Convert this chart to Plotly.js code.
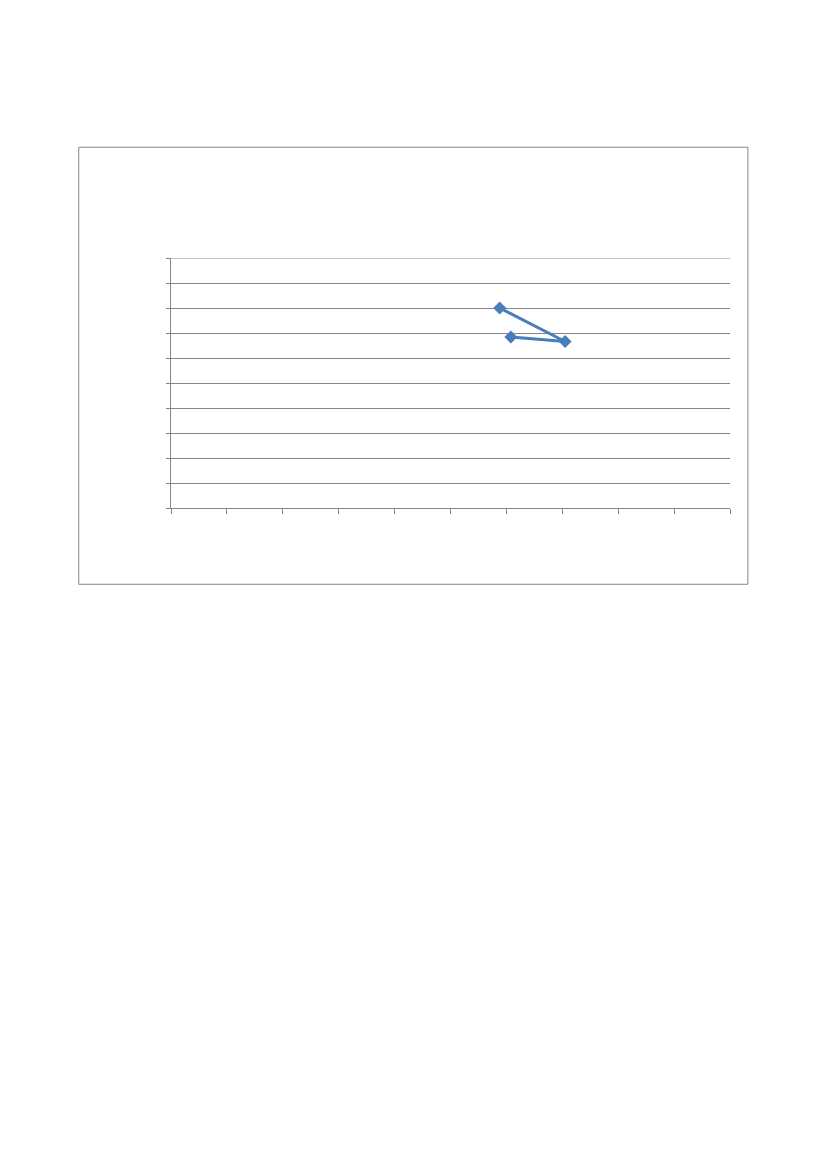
<!DOCTYPE html>
<html>
<head>
<meta charset="utf-8">
<script src="https://cdn.plot.ly/plotly-3.0.1.min.js"></script>
<style>
  html, body { margin: 0; padding: 0; background: #fff; }
  #chart { width: 827px; height: 1169px; }
</style>
</head>
<body>
<div id="chart"></div>
<script>
// series (axes carry no labels, scale taken as 0..10)
const xValues = [5.88, 7.05, 6.08];
const yValues = [8.0, 6.66, 6.84];

const axisGrey = '#868686';

Plotly.newPlot('chart', [{
  x: xValues,
  y: yValues,
  type: 'scatter',
  mode: 'lines+markers',
  line: { color: '#4A7EBB', width: 3 },
  marker: { symbol: 'diamond', size: 10, color: '#4A7EBB' },
  cliponaxis: false,
}], {
  width: 827,
  height: 1169,
  margin: { l: 171, r: 97, t: 258, b: 661 },
  paper_bgcolor: '#fff',
  plot_bgcolor: '#fff',
  showlegend: false,
  xaxis: {
    range: [0, 10], dtick: 1, tick0: 0,
    showgrid: false, zeroline: false,
    showline: true, linecolor: axisGrey, linewidth: 1,
    ticks: 'outside', ticklen: 5, tickcolor: axisGrey,
    showticklabels: false, fixedrange: true,
  },
  yaxis: {
    range: [0, 10], dtick: 1, tick0: 0,
    showgrid: true, gridcolor: axisGrey, gridwidth: 1, zeroline: false,
    showline: true, linecolor: axisGrey, linewidth: 1,
    ticks: 'outside', ticklen: 4, tickcolor: axisGrey,
    showticklabels: false, fixedrange: true,
  },
  shapes: [
    // outer chart frame
    {
      type: 'rect', xref: 'paper', yref: 'paper',
      x0: -0.165, x1: 1.032, y0: -0.305, y1: 1.443,
      line: { color: axisGrey, width: 1 },
    },
    // plotly drops the gridline sitting on the top edge, so draw it
    {
      type: 'line', xref: 'paper', yref: 'y',
      x0: 0, x1: 1, y0: 10, y1: 10,
      line: { color: axisGrey, width: 1 },
    },
  ],
}, { staticPlot: true });
</script>
</body>
</html>
